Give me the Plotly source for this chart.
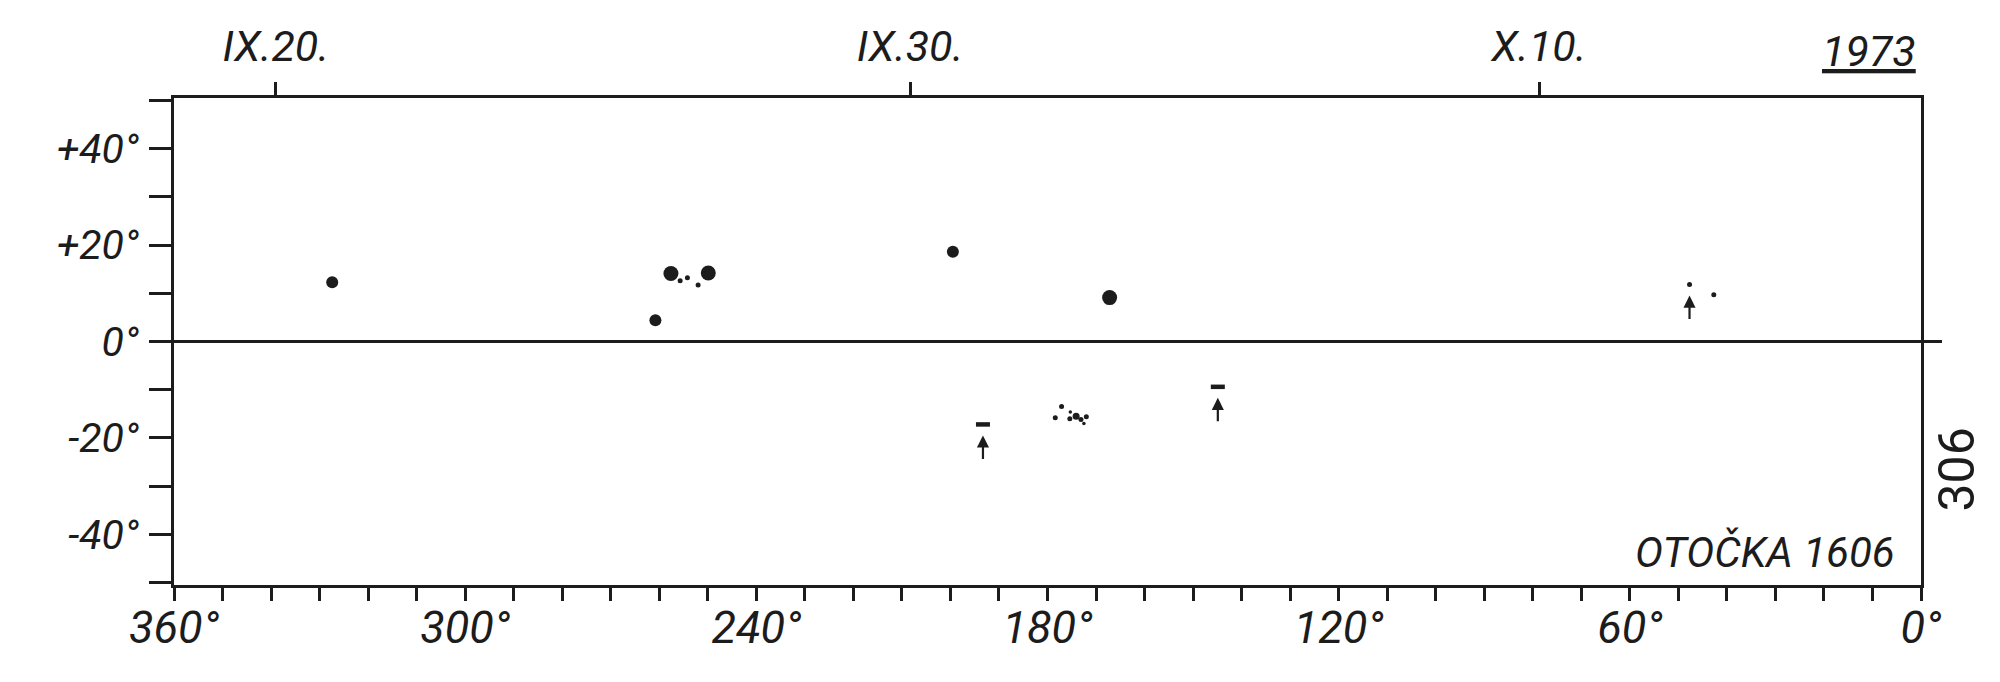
import plotly.graph_objects as go

# ---------------- data ----------------
# Carrington longitude (deg) and heliographic latitude (deg) of sunspots
spot_lon = [327.4, 260.8, 257.6, 255.7, 254.2, 252.0, 249.9, 199.5, 167.2,
            177.1, 178.4, 175.3, 175.4, 174.1, 173.1, 172.0, 172.5,
            47.7, 42.7]
spot_lat = [12.3, 4.4, 14.1, 12.6, 13.2, 11.7, 14.2, 18.6, 9.1,
            -13.5, -15.8, -14.6, -16.0, -15.5, -16.2, -15.6, -17.0,
            11.8, 9.7]
spot_class = ["medium", "medium", "large", "small", "small", "small", "large", "medium", "large",
              "small", "small", "tiny", "small", "medium_small", "small", "small", "tiny",
              "small", "small"]

# elongated (small bipolar) spots
elong_lon = [193.3, 144.9]
elong_lat = [-17.2, -9.4]

# spots marked with an arrow
arrow_lon = [193.3, 144.9, 47.7]
arrow_lat = [-17.2, -9.4, 11.8]

# x axis (longitude) ticks
lon_ticks = list(range(0, 361, 10))
lon_labels = {360: "360°", 300: "300°", 240: "240°", 180: "180°", 120: "120°", 60: "60°", 0: "0°"}

# latitude ticks
lat_ticks = list(range(-50, 51, 10))
lat_labels = {40: "+40°", 20: "+20°", 0: "0°", -20: "-20°", -40: "-40°"}

# date ticks (top axis)
date_labels = ["IX.20.", "IX.30.", "X.10."]
date_lon = [339.0, 208.3, 78.7]

year_text = "1973"
region_text = "OTOČKA 1606"
page_text = "306"

# ---------------- style ----------------
INK = "#1c1c1c"
FONT = "Roboto, Liberation Sans, sans-serif"
size_map = {"large": 15, "medium": 12, "medium_small": 7, "small": 5, "tiny": 3.5}

fig = go.Figure()

fig.add_trace(go.Scatter(
    x=spot_lon, y=spot_lat, mode="markers",
    marker=dict(size=[size_map[c] for c in spot_class], color=INK, opacity=1,
                line=dict(width=0)),
    showlegend=False, hoverinfo="x+y"))

fig.add_trace(go.Scatter(
    x=elong_lon, y=elong_lat, mode="markers",
    marker=dict(symbol="line-ew", size=10, color=INK, opacity=1,
                line=dict(width=4.5, color=INK)),
    showlegend=False, hoverinfo="x+y"))

# invisible trace on top axis so it renders
fig.add_trace(go.Scatter(x=date_lon, y=[None] * len(date_lon), xaxis="x2",
                         mode="markers", showlegend=False, hoverinfo="skip"))

for lo, la in zip(arrow_lon, arrow_lat):
    fig.add_annotation(x=lo, y=la, xref="x", yref="y", text="", showarrow=True,
                       ax=0, ay=36, axref="pixel", ayref="pixel",
                       arrowhead=2, arrowsize=1.1, arrowwidth=2.2, arrowcolor=INK,
                       standoff=11)

# equator line extending past the frame
fig.add_shape(type="line", xref="paper", yref="y", x0=-0.012, x1=1.012, y0=0, y1=0,
              line=dict(color=INK, width=3))

fig.add_annotation(xref="paper", yref="paper", x=1, y=0, xanchor="right", yanchor="bottom",
                   xshift=-24, yshift=6, text=region_text, showarrow=False,
                   font=dict(family=FONT, size=42, color=INK, style="italic"))

fig.add_annotation(xref="paper", yref="paper", x=1, y=1, xanchor="right", yanchor="bottom",
                   xshift=-3, yshift=20, text="<u>" + year_text + "</u>", showarrow=False,
                   font=dict(family=FONT, size=43, color=INK, style="italic"))

fig.add_annotation(xref="paper", yref="paper", x=1, y=0.5, xanchor="center", yanchor="middle",
                   xshift=35, yshift=-128, text=page_text, textangle=-90, showarrow=False,
                   font=dict(family=FONT, size=50, color=INK))

fig.update_layout(
    template="none",
    width=2000, height=682,
    margin=dict(l=166, r=87, t=90, b=105, autoexpand=False),
    paper_bgcolor="white", plot_bgcolor="white",
    showlegend=False,
    xaxis=dict(range=[360, 0], tickmode="array", tickvals=lon_ticks,
               ticktext=[lon_labels.get(v, "") for v in lon_ticks], automargin=False,
               ticks="outside", ticklen=13, tickwidth=2.5, tickcolor=INK,
               showline=True, linecolor=INK, linewidth=3, showgrid=False, zeroline=False,
               ticklabelstandoff=-12,
               tickfont=dict(family=FONT, size=45, color=INK, style="italic")),
    xaxis2=dict(range=[360, 0], overlaying="x", side="top", tickmode="array",
                tickvals=date_lon, ticktext=date_labels, automargin=False,
                ticks="outside", ticklen=13, tickwidth=2.5, tickcolor=INK,
                showline=True, linecolor=INK, linewidth=3, showgrid=False, zeroline=False,
                ticklabelstandoff=4,
                tickfont=dict(family=FONT, size=43, color=INK, style="italic")),
    yaxis=dict(range=[-50.5, 50.5], tickmode="array", tickvals=lat_ticks,
               ticktext=[lat_labels.get(v, "") for v in lat_ticks], automargin=False,
               ticks="outside", ticklen=22, tickwidth=2.5, tickcolor=INK,
               showline=True, mirror=True, linecolor=INK, linewidth=3,
               showgrid=False, zeroline=False, ticklabelstandoff=2,
               tickfont=dict(family=FONT, size=41, color=INK, style="italic")),
)

fig.write_html("out.html")
